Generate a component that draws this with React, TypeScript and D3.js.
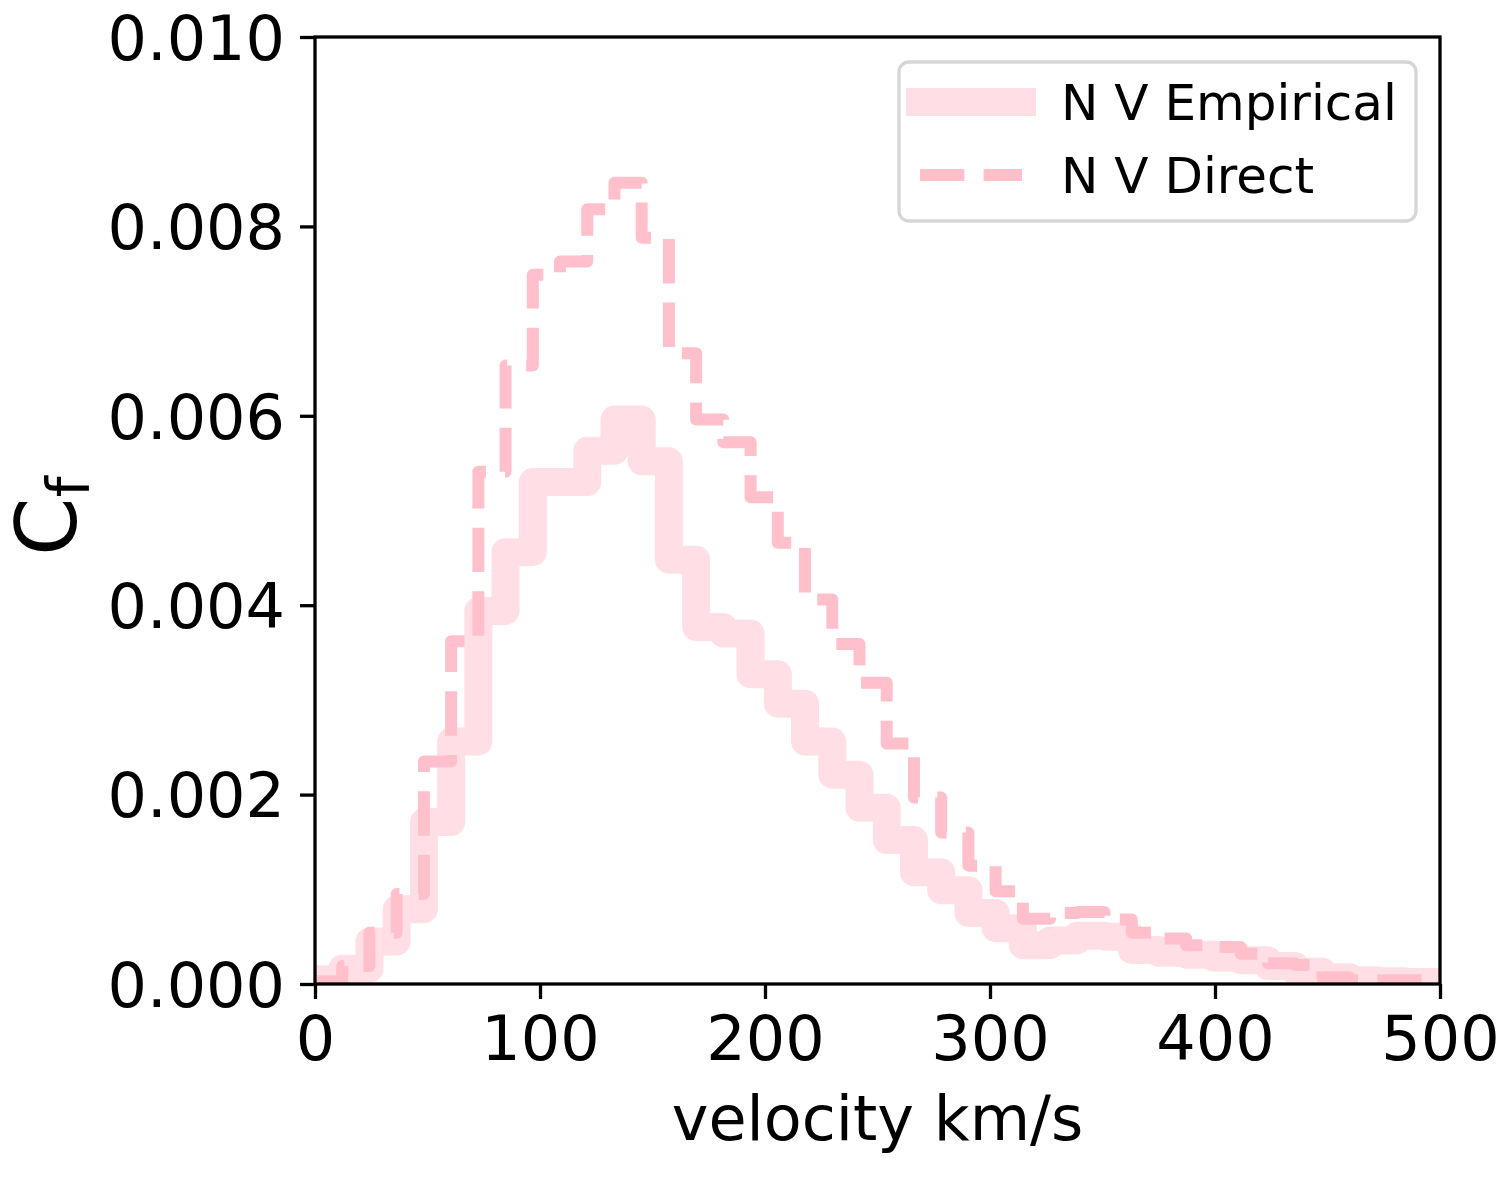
import React, {useEffect, useRef} from "react";
import * as d3 from 'd3';

// canvas + plot box (pixels)
const WIDTH = 1500;
const HEIGHT = 1200;
const PLOT_LEFT = 315;
const PLOT_RIGHT = 1440;
const PLOT_TOP = 37;
const PLOT_BOTTOM = 984;

const FONT = '"DejaVu Sans", "Liberation Sans", sans-serif';
const PINK = '#ffc0cb';

// velocity bin width in km/s, bins start at 0
const BIN_WIDTH = 12.1;

// covering fraction per bin
const empiricalCf = [
    0.00005, 0.00016, 0.00045, 0.00079, 0.00171, 0.00256, 0.00394, 0.00456,
    0.00530, 0.00530, 0.00563, 0.00596, 0.00552, 0.00448, 0.00377, 0.00370,
    0.00327, 0.00296, 0.00256, 0.00221, 0.00186, 0.00152, 0.00118, 0.00099,
    0.00075, 0.00059, 0.00041, 0.00046, 0.00051, 0.00050, 0.00036, 0.00033,
    0.00031, 0.00028, 0.00025, 0.00019, 0.00013, 0.00007, 0.00004, 0.00003,
    0.00002, 0.00002,
];

const directCf = [
    0.00003, 0.00019, 0.00054, 0.00095, 0.00235, 0.00362, 0.00541, 0.00653,
    0.00749, 0.00763, 0.00818, 0.00846, 0.00788, 0.00666, 0.00596, 0.00572,
    0.00514, 0.00466, 0.00406, 0.00359, 0.00318, 0.00254, 0.00197, 0.00160,
    0.00125, 0.00098, 0.00069, 0.00075, 0.00076, 0.00068, 0.00054, 0.00048,
    0.00041, 0.00039, 0.00032, 0.00022, 0.00020, 0.00007, 0.00004, 0.00004,
    0.00004, 0.00004,
];

const xTicks = [0, 100, 200, 300, 400, 500];
const yTicks = [0, 0.002, 0.004, 0.006, 0.008, 0.010];
const legendLabels = ['N V Empirical', 'N V Direct'];

// histogram values -> step points [edge, value], last bin closed on the right
const toSteps = (vals: number[]): [number, number][] => {
    const pts: [number, number][] = vals.map((v, i) => [i * BIN_WIDTH, v]);
    pts.push([vals.length * BIN_WIDTH, vals[vals.length - 1]]);
    return pts;
};

export default function App() {
    const d3Container = useRef<SVGSVGElement>(null);

    useEffect(() => {
        const svg = d3.select(d3Container.current);
        svg.selectAll('*').remove();

        const xScale = d3.scaleLinear().domain([0, 500]).range([PLOT_LEFT, PLOT_RIGHT]);
        const yScale = d3.scaleLinear().domain([0, 0.010]).range([PLOT_BOTTOM, PLOT_TOP]);

        svg.append('defs').append('clipPath').attr('id', 'plot-clip')
            .append('rect')
            .attr('x', PLOT_LEFT).attr('y', PLOT_TOP)
            .attr('width', PLOT_RIGHT - PLOT_LEFT).attr('height', PLOT_BOTTOM - PLOT_TOP);

        const line = d3.line<[number, number]>()
            .x(d => xScale(d[0]))
            .y(d => yScale(d[1]))
            .curve(d3.curveStepAfter);

        const linesG = svg.append('g').attr('clip-path', 'url(#plot-clip)');

        linesG.append('path')
            .attr('d', line(toSteps(empiricalCf)))
            .attr('fill', 'none')
            .attr('stroke', PINK)
            .attr('stroke-opacity', 0.5)
            .attr('stroke-width', 28)
            .attr('stroke-linejoin', 'round')
            .attr('stroke-linecap', 'square');

        linesG.append('path')
            .attr('d', line(toSteps(directCf)))
            .attr('fill', 'none')
            .attr('stroke', PINK)
            .attr('stroke-width', 12)
            .attr('stroke-dasharray', '44.4,19.2')
            .attr('stroke-linejoin', 'round')
            .attr('stroke-linecap', 'butt');

        // axes
        const xAxisG = svg.append('g')
            .attr('transform', 'translate(0,' + PLOT_BOTTOM + ')')
            .call(d3.axisBottom(xScale).tickValues(xTicks).tickSize(15).tickPadding(17)
                .tickFormat(d3.format('d')));
        xAxisG.selectAll('text').attr('dy', '0.71em');

        const yAxisG = svg.append('g')
            .attr('transform', 'translate(' + PLOT_LEFT + ',0)')
            .call(d3.axisLeft(yScale).tickValues(yTicks).tickSize(15).tickPadding(15)
                .tickFormat(d3.format('.3f')));
        yAxisG.selectAll('text').attr('dy', '0.36em');

        [xAxisG, yAxisG].forEach(g => {
            g.select('.domain').remove();
            g.attr('font-family', FONT).attr('font-size', 62);
            g.selectAll('text').attr('fill', '#000');
            g.selectAll('line').attr('stroke', '#000').attr('stroke-width', 3.3);
        });

        // spines
        svg.append('rect')
            .attr('x', PLOT_LEFT).attr('y', PLOT_TOP)
            .attr('width', PLOT_RIGHT - PLOT_LEFT).attr('height', PLOT_BOTTOM - PLOT_TOP)
            .attr('fill', 'none')
            .attr('stroke', '#000')
            .attr('stroke-width', 3.3);

        // axis labels
        svg.append('text')
            .attr('x', (PLOT_LEFT + PLOT_RIGHT) / 2)
            .attr('y', 1140)
            .attr('text-anchor', 'middle')
            .attr('font-family', FONT)
            .attr('font-size', 62)
            .text('velocity km/s');

        const yLabel = svg.append('text')
            .attr('transform', 'translate(76,556) rotate(-90)')
            .attr('font-family', FONT)
            .attr('font-size', 84);
        yLabel.append('tspan').text('C');
        yLabel.append('tspan').attr('font-size', 59).attr('dy', 13).text('f');

        // legend
        const legendG = svg.append('g');
        legendG.append('rect')
            .attr('x', 899).attr('y', 62)
            .attr('width', 517).attr('height', 159)
            .attr('rx', 10)
            .attr('fill', '#fff').attr('fill-opacity', 0.8)
            .attr('stroke', '#d6d6d6').attr('stroke-width', 3.3);

        const rows = [
            {label: legendLabels[0], y: 102, width: 28, opacity: 0.5, dash: null, cap: 'square'},
            {label: legendLabels[1], y: 175, width: 12, opacity: 1, dash: '44.4,19.2', cap: 'butt'},
        ];
        rows.forEach(r => {
            legendG.append('line')
                .attr('x1', 920).attr('x2', 1022)
                .attr('y1', r.y).attr('y2', r.y)
                .attr('stroke', PINK)
                .attr('stroke-opacity', r.opacity)
                .attr('stroke-width', r.width)
                .attr('stroke-linecap', r.cap)
                .attr('stroke-dasharray', r.dash);
            legendG.append('text')
                .attr('x', 1061).attr('y', r.y + 18)
                .attr('font-family', FONT)
                .attr('font-size', 50)
                .attr('fill', '#000')
                .text(r.label);
        });
    }, []);

    return (
        <svg ref={d3Container} width={WIDTH} height={HEIGHT}
             style={{position: 'absolute', left: 0, top: 0, background: '#fff'}}/>
    );
}
